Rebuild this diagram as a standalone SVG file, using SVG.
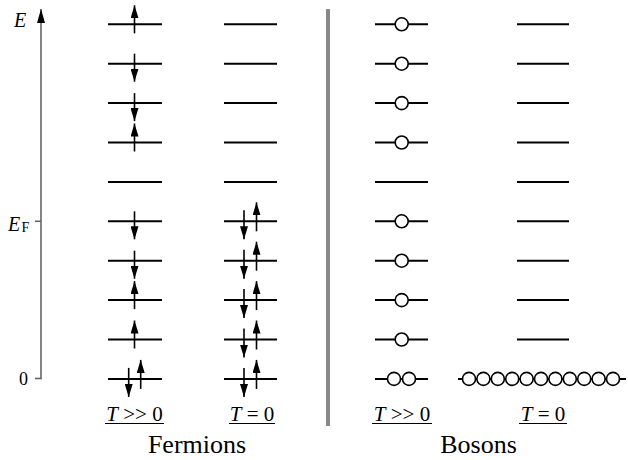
<svg xmlns="http://www.w3.org/2000/svg" width="628" height="460" viewBox="0 0 628 460">
<defs>
<marker id="ah" markerUnits="userSpaceOnUse" markerWidth="13" markerHeight="8" refX="13" refY="4" orient="auto">
<path d="M0,0 L13,4 L0,8 z" fill="#000"/>
</marker>
<marker id="axh" markerUnits="userSpaceOnUse" markerWidth="14" markerHeight="8" refX="14" refY="4" orient="auto">
<path d="M0,0 L14,4 L0,8 z" fill="#000"/>
</marker>
</defs>
<style>
.lv{stroke:#000;stroke-width:2;fill:none}
.sp{stroke:#000;stroke-width:1.6;fill:none;marker-end:url(#ah)}
.bo{stroke:#000;stroke-width:1.6;fill:#fff}
.t{fill:#000;font-family:'Liberation Serif','Times New Roman',Times,'Nimbus Roman','FreeSerif','DejaVu Serif',serif}
.ul{stroke:#000;stroke-width:1}
</style>
<g id="axis">
<line x1="41" y1="378.5" x2="41" y2="9" stroke="#666" stroke-width="1.6" marker-end="url(#axh)"/>
<line x1="35" y1="221.3" x2="41" y2="221.3" stroke="#666" stroke-width="1.6"/>
<line x1="35" y1="378.5" x2="41.8" y2="378.5" stroke="#666" stroke-width="1.6"/>
<text class="t" x="14" y="27" font-size="20" font-style="italic">E</text>
<text class="t" x="8" y="231" font-size="20" font-style="italic">E</text>
<text class="t" x="21.5" y="232" font-size="14">F</text>
<text class="t" x="19" y="385" font-size="18">0</text>
</g>
<g id="divider">
<rect x="326" y="9" width="4" height="417" fill="#888"/>
</g>
<g id="fermions-hot">
<line class="lv" x1="108" y1="24.3" x2="162" y2="24.3"/>
<line class="lv" x1="108" y1="63.7" x2="162" y2="63.7"/>
<line class="lv" x1="108" y1="103.1" x2="162" y2="103.1"/>
<line class="lv" x1="108" y1="142.5" x2="162" y2="142.5"/>
<line class="lv" x1="108" y1="181.9" x2="162" y2="181.9"/>
<line class="lv" x1="108" y1="221.3" x2="162" y2="221.3"/>
<line class="lv" x1="108" y1="260.7" x2="162" y2="260.7"/>
<line class="lv" x1="108" y1="300.1" x2="162" y2="300.1"/>
<line class="lv" x1="108" y1="339.5" x2="162" y2="339.5"/>
<line class="lv" x1="108" y1="378.9" x2="162" y2="378.9"/>
<line class="sp" x1="134.5" y1="33.3" x2="134.5" y2="5.3"/>
<line class="sp" x1="134.5" y1="53.7" x2="134.5" y2="81.7"/>
<line class="sp" x1="134.5" y1="93.1" x2="134.5" y2="121.1"/>
<line class="sp" x1="134.5" y1="151.5" x2="134.5" y2="123.5"/>
<line class="sp" x1="134.5" y1="211.3" x2="134.5" y2="239.3"/>
<line class="sp" x1="134.5" y1="250.7" x2="134.5" y2="278.7"/>
<line class="sp" x1="134.5" y1="309.1" x2="134.5" y2="281.1"/>
<line class="sp" x1="134.5" y1="348.5" x2="134.5" y2="320.5"/>
<line class="sp" x1="128.7" y1="367.9" x2="128.7" y2="396.9"/>
<line class="sp" x1="140.7" y1="388.9" x2="140.7" y2="359.9"/>
</g>
<g id="fermions-cold">
<line class="lv" x1="224" y1="24.3" x2="277" y2="24.3"/>
<line class="lv" x1="224" y1="63.7" x2="277" y2="63.7"/>
<line class="lv" x1="224" y1="103.1" x2="277" y2="103.1"/>
<line class="lv" x1="224" y1="142.5" x2="277" y2="142.5"/>
<line class="lv" x1="224" y1="181.9" x2="277" y2="181.9"/>
<line class="lv" x1="224" y1="221.3" x2="277" y2="221.3"/>
<line class="lv" x1="224" y1="260.7" x2="277" y2="260.7"/>
<line class="lv" x1="224" y1="300.1" x2="277" y2="300.1"/>
<line class="lv" x1="224" y1="339.5" x2="277" y2="339.5"/>
<line class="lv" x1="224" y1="378.9" x2="277" y2="378.9"/>
<line class="sp" x1="244" y1="210.3" x2="244" y2="239.3"/>
<line class="sp" x1="256.5" y1="231.3" x2="256.5" y2="202.3"/>
<line class="sp" x1="244" y1="249.7" x2="244" y2="278.7"/>
<line class="sp" x1="256.5" y1="270.7" x2="256.5" y2="241.7"/>
<line class="sp" x1="244" y1="289.1" x2="244" y2="318.1"/>
<line class="sp" x1="256.5" y1="310.1" x2="256.5" y2="281.1"/>
<line class="sp" x1="244" y1="328.5" x2="244" y2="357.5"/>
<line class="sp" x1="256.5" y1="349.5" x2="256.5" y2="320.5"/>
<line class="sp" x1="244" y1="367.9" x2="244" y2="396.9"/>
<line class="sp" x1="256.5" y1="388.9" x2="256.5" y2="359.9"/>
</g>
<g id="bosons-hot">
<line class="lv" x1="375" y1="24.3" x2="428" y2="24.3"/>
<line class="lv" x1="375" y1="63.7" x2="428" y2="63.7"/>
<line class="lv" x1="375" y1="103.1" x2="428" y2="103.1"/>
<line class="lv" x1="375" y1="142.5" x2="428" y2="142.5"/>
<line class="lv" x1="375" y1="181.9" x2="428" y2="181.9"/>
<line class="lv" x1="375" y1="221.3" x2="428" y2="221.3"/>
<line class="lv" x1="375" y1="260.7" x2="428" y2="260.7"/>
<line class="lv" x1="375" y1="300.1" x2="428" y2="300.1"/>
<line class="lv" x1="375" y1="339.5" x2="428" y2="339.5"/>
<line class="lv" x1="375" y1="378.9" x2="428" y2="378.9"/>
<circle class="bo" cx="401.7" cy="24.3" r="6.5"/>
<circle class="bo" cx="401.7" cy="63.7" r="6.5"/>
<circle class="bo" cx="401.7" cy="103.1" r="6.5"/>
<circle class="bo" cx="401.7" cy="142.5" r="6.5"/>
<circle class="bo" cx="401.7" cy="221.3" r="6.5"/>
<circle class="bo" cx="401.7" cy="260.7" r="6.5"/>
<circle class="bo" cx="401.7" cy="300.1" r="6.5"/>
<circle class="bo" cx="401.7" cy="339.5" r="6.5"/>
<circle class="bo" cx="394" cy="378.9" r="6.5"/>
<circle class="bo" cx="409" cy="378.9" r="6.5"/>
</g>
<g id="bosons-cold">
<line class="lv" x1="517" y1="24.3" x2="569" y2="24.3"/>
<line class="lv" x1="517" y1="63.7" x2="569" y2="63.7"/>
<line class="lv" x1="517" y1="103.1" x2="569" y2="103.1"/>
<line class="lv" x1="517" y1="142.5" x2="569" y2="142.5"/>
<line class="lv" x1="517" y1="181.9" x2="569" y2="181.9"/>
<line class="lv" x1="517" y1="221.3" x2="569" y2="221.3"/>
<line class="lv" x1="517" y1="260.7" x2="569" y2="260.7"/>
<line class="lv" x1="517" y1="300.1" x2="569" y2="300.1"/>
<line class="lv" x1="517" y1="339.5" x2="569" y2="339.5"/>
<line class="lv" x1="458" y1="378.9" x2="626" y2="378.9"/>
<circle class="bo" cx="469" cy="378.9" r="6.5"/>
<circle class="bo" cx="483.4" cy="378.9" r="6.5"/>
<circle class="bo" cx="497.8" cy="378.9" r="6.5"/>
<circle class="bo" cx="512.2" cy="378.9" r="6.5"/>
<circle class="bo" cx="526.6" cy="378.9" r="6.5"/>
<circle class="bo" cx="541" cy="378.9" r="6.5"/>
<circle class="bo" cx="555.4" cy="378.9" r="6.5"/>
<circle class="bo" cx="569.8" cy="378.9" r="6.5"/>
<circle class="bo" cx="584.2" cy="378.9" r="6.5"/>
<circle class="bo" cx="598.6" cy="378.9" r="6.5"/>
<circle class="bo" cx="613" cy="378.9" r="6.5"/>
</g>
<g id="labels">
<text class="t" x="134.5" y="421" font-size="21" text-anchor="middle"><tspan font-style="italic">T</tspan> &gt;&gt; 0</text>
<line class="ul" x1="105" y1="423.5" x2="164" y2="423.5"/>
<text class="t" x="252" y="421" font-size="21" text-anchor="middle"><tspan font-style="italic">T</tspan> = 0</text>
<line class="ul" x1="229" y1="423.5" x2="275" y2="423.5"/>
<text class="t" x="402" y="421" font-size="21" text-anchor="middle"><tspan font-style="italic">T</tspan> &gt;&gt; 0</text>
<line class="ul" x1="372" y1="423.5" x2="432" y2="423.5"/>
<text class="t" x="543" y="421" font-size="21" text-anchor="middle"><tspan font-style="italic">T</tspan> = 0</text>
<line class="ul" x1="519" y1="423.5" x2="567" y2="423.5"/>
<text class="t" x="197" y="453" font-size="26" text-anchor="middle">Fermions</text>
<text class="t" x="478.5" y="453" font-size="26" text-anchor="middle">Bosons</text>
</g>
</svg>
